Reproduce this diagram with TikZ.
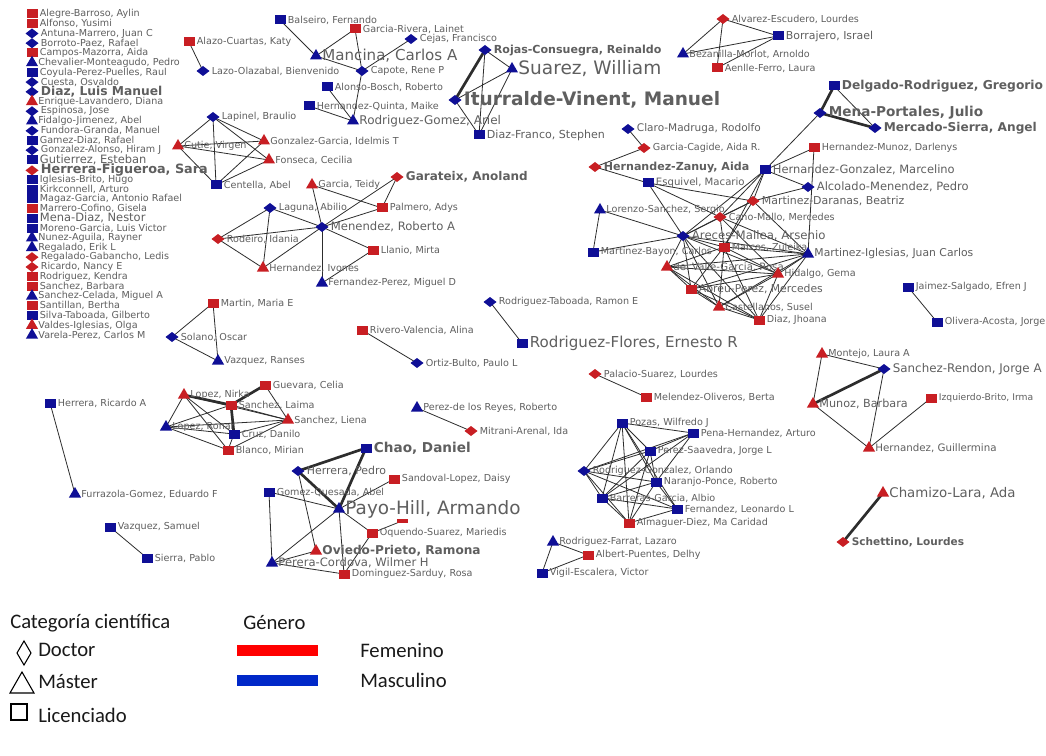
\documentclass[tikz,border=0pt]{standalone}
\usepackage{fontspec}
\newfontfamily\dvs{DejaVu Sans}
\newfontfamily\legfont{Carlito}
\usetikzlibrary{shapes.geometric}
\pgfdeclarelayer{bgl}\pgfdeclarelayer{edl}\pgfsetlayers{bgl,edl,main}
\definecolor{fR}{RGB}{200,30,35}
\definecolor{fB}{RGB}{15,15,150}
\definecolor{lblc}{RGB}{95,95,95}
\definecolor{edc}{RGB}{45,45,45}
\definecolor{legR}{RGB}{255,0,0}
\definecolor{legB}{RGB}{0,40,200}
\begin{document}
\begin{tikzpicture}[x=0.75pt,y=-0.75pt,label distance=1.6pt,
 mk/.style={inner sep=0pt,outer sep=0pt,draw=none},
 sq/.style={mk,rectangle,minimum width=8.25pt,minimum height=6.75pt},
 dm/.style={mk,diamond,minimum width=9.75pt,minimum height=7.5pt},
 tr/.style={mk,regular polygon,regular polygon sides=3,minimum size=10.5pt},
 sqR/.style={sq,fill=fR},sqB/.style={sq,fill=fB},
 dmR/.style={dm,fill=fR},dmB/.style={dm,fill=fB},
 trR/.style={tr,fill=fR},trB/.style={tr,fill=fB},
 lb/.style={inner sep=0pt,text=lblc},
 ls/.style={lb,font=\dvs\fontsize{7.2}{8}\selectfont},
 lz/.style={lb,font=\dvs\fontsize{#1}{#1}\selectfont},
 lzb/.style={lb,font=\dvs\bfseries\fontsize{#1}{#1}\selectfont},
 ed/.style={draw=edc,line width=0.6pt},
 edk/.style={draw=edc,line width=2pt},
 legt/.style={inner sep=0pt,anchor=west,text=black!90,font=\legfont\fontsize{15.5}{16}\selectfont},
 legs/.style={draw=black,line width=0.8pt}]
\begin{pgfonlayer}{bgl}
\fill[white] (0,0) rectangle (1046,756);
\end{pgfonlayer}
\useasboundingbox (0,0) rectangle (1046,756);
% ---------- left list ----------
\node[sqR,label={[ls]right:Alegre-Barroso, Aylin}] (l01) at (32,14) {};
\node[sqR,label={[ls]right:Alfonso, Yusimi}] (l02) at (32,23.7) {};
\node[dmB,label={[ls]right:Antuna-Marrero, Juan C}] (l03) at (32,33.5) {};
\node[dmB,label={[ls]right:Borroto-Paez, Rafael}] (l04) at (32,43.2) {};
\node[sqR,label={[ls]right:Campos-Mazorra, Aida}] (l05) at (32,52.9) {};
\node[trB,label={[ls]right:Chevalier-Monteagudo, Pedro}] (l06) at (32,62.7) {};
\node[sqB,label={[ls]right:Coyula-Perez-Puelles, Raul}] (l07) at (32,72.4) {};
\node[dmB,label={[ls]right:Cuesta, Osvaldo}] (l08) at (32,82.1) {};
\node[dmB,label={[lzb=9.2]right:Diaz, Luis Manuel}] (l09) at (32,91.8) {};
\node[trR,label={[ls]right:Enrique-Lavandero, Diana}] (l10) at (32,101.6) {};
\node[dmB,label={[ls]right:Espinosa, Jose}] (l11) at (32,111.3) {};
\node[trB,label={[ls]right:Fidalgo-Jimenez, Abel}] (l12) at (32,121.0) {};
\node[dmB,label={[ls]right:Fundora-Granda, Manuel}] (l13) at (32,130.8) {};
\node[sqB,label={[ls]right:Gamez-Diaz, Rafael}] (l14) at (32,140.5) {};
\node[dmB,label={[ls]right:Gonzalez-Alonso, Hiram J}] (l15) at (32,150.2) {};
\node[sqB,label={[lz=8.6]right:Gutierrez, Esteban}] (l16) at (32,159.6) {};
\node[dmR,label={[lzb=9.6]right:Herrera-Figueroa, Sara}] (l17) at (32,170.4) {};
\node[sqB,label={[ls]right:Iglesias-Brito, Hugo}] (l18) at (32,179.6) {};
\node[sqB,label={[ls]right:Kirkconnell, Arturo}] (l19) at (32,189.1) {};
\node[sqB,label={[ls]right:Magaz-Garcia, Antonio Rafael}] (l20) at (32,198.9) {};
\node[sqR,label={[ls]right:Marrero-Cofino, Gisela}] (l21) at (32,208.6) {};
\node[sqB,label={[lz=8.6]right:Mena-Diaz, Nestor}] (l22) at (32,218.3) {};
\node[sqB,label={[ls]right:Moreno-Garcia, Luis Victor}] (l23) at (32,228.1) {};
\node[trB,label={[ls]right:Nunez-Aguila, Rayner}] (l24) at (32,237.8) {};
\node[trB,label={[ls]right:Regalado, Erik L}] (l25) at (32,247.5) {};
\node[dmR,label={[ls]right:Regalado-Gabancho, Ledis}] (l26) at (32,257.2) {};
\node[dmR,label={[ls]right:Ricardo, Nancy E}] (l27) at (32,267.0) {};
\node[sqR,label={[ls]right:Rodriguez, Kendra}] (l28) at (32,276.7) {};
\node[sqR,label={[ls]right:Sanchez, Barbara}] (l29) at (32,286.4) {};
\node[trB,label={[ls]right:Sanchez-Celada, Miguel A}] (l30) at (32,296.2) {};
\node[sqR,label={[ls]right:Santillan, Bertha}] (l31) at (32,305.9) {};
\node[sqB,label={[ls]right:Silva-Taboada, Gilberto}] (l32) at (32,315.6) {};
\node[trR,label={[ls]right:Valdes-Iglesias, Olga}] (l33) at (32,325.4) {};
\node[trB,label={[ls]right:Varela-Perez, Carlos M}] (l34) at (32,335.1) {};
% ---------- network ----------
\node[sqB,label={[ls]right:Balseiro, Fernando}] (balseiro) at (280,20) {};
\node[sqR,label={[ls]right:Garcia-Rivera, Lainet}] (garciarivera) at (355,29) {};
\node[dmB,label={[ls]right:Cejas, Francisco}] (cejas) at (411,39) {};
\node[sqR,label={[ls]right:Alazo-Cuartas, Katy}] (alazo) at (189,42) {};
\node[trB,label={[lz=11.3]right:Mancina, Carlos A}] (mancina) at (316,56) {};
\node[dmB,label={[ls]right:Lazo-Olazabal, Bienvenido}] (lazo) at (203,71) {};
\node[dmB,label={[ls]right:Capote, Rene P}] (capote) at (362,71) {};
\node[sqB,label={[ls]right:Alonso-Bosch, Roberto}] (alonso) at (327,87) {};
\node[sqB,label={[ls]right:Hernandez-Quinta, Maike}] (hquinta) at (309,106) {};
\node[trB,label={[lz=9]right:Rodriguez-Gomez, Ariel}] (rgomez) at (353,121) {};
\node[dmB,label={[ls]right:Lapinel, Braulio}] (lapinel) at (213,117) {};
\node[trR,label={[ls]right:Gonzalez-Garcia, Idelmis T}] (ggarcia) at (264,141) {};
\node[trR,label={[ls]right:Cutie, Virgen}] (cutie) at (178,146) {};
\node[trR,label={[ls]right:Fonseca, Cecilia}] (fonseca) at (269,160) {};
\node[sqB,label={[ls]right:Centella, Abel}] (centella) at (216,185) {};
\node[trR,label={[ls]right:Garcia, Teidy}] (teidy) at (312,185) {};
\node[dmR,label={[lzb=9]right:Garateix, Anoland}] (garateix) at (397,177) {};
\node[dmB,label={[lzb=8.3]right:Rojas-Consuegra, Reinaldo}] (rojas) at (485,50) {};
\node[trB,label={[lz=13.9]right:Suarez, William}] (suarez) at (512,69) {};
\node[dmB,label={[lzb=13.9]right:Iturralde-Vinent, Manuel}] (iturralde) at (455,100) {};
\node[sqB,label={[lz=8.3]right:Diaz-Franco, Stephen}] (diazfranco) at (479,135) {};
\node[trB,label={[ls]right:Bezanilla-Morlot, Arnoldo}] (bezanilla) at (683,54) {};
\node[dmR,label={[ls]right:Alvarez-Escudero, Lourdes}] (alvarez) at (723,19) {};
\node[sqR,label={[ls]right:Aenlle-Ferro, Laura}] (aenlle) at (717,68) {};
\node[sqB,label={[lz=8.2]right:Borrajero, Israel}] (borrajero) at (778,36) {};
\node[dmB,label={[lz=7.9]right:Claro-Madruga, Rodolfo}] (claro) at (628,129) {};
\node[dmR,label={[ls]right:Garcia-Cagide, Aida R.}] (gcagide) at (644,148) {};
\node[dmR,label={[lzb=8.3]right:Hernandez-Zanuy, Aida}] (hzanuy) at (595,167) {};
\node[sqB,label={[lz=7.6]right:Esquivel, Macario}] (esquivel) at (648,183) {};
\node[sqB,label={[lzb=9.2]right:Delgado-Rodriguez, Gregorio}] (delgado) at (834,86) {};
\node[dmB,label={[lzb=10.2]right:Mena-Portales, Julio}] (menaportales) at (820,113) {};
\node[dmB,label={[lzb=9.1]right:Mercado-Sierra, Angel}] (mercado) at (875,128) {};
\node[sqR,label={[ls]right:Hernandez-Munoz, Darlenys}] (hmunoz) at (814,148) {};
\node[sqB,label={[lz=8.6]right:Hernandez-Gonzalez, Marcelino}] (hgonzalez) at (765,170) {};
\node[dmB,label={[lz=8.6]right:Alcolado-Menendez, Pedro}] (alcolado) at (808,187) {};
\node[trB,label={[ls]right:Lorenzo-Sanchez, Sergio}] (lorenzo) at (600,210) {};
\node[sqB,label={[ls]right:Martinez-Bayon, Carlos}] (mbayon) at (593,252) {};
\node[dmB,label={[lz=8.8]right:Areces-Mallea, Arsenio}] (areces) at (683,236) {};
\node[dmR,label={[ls]right:Cano-Mallo, Mercedes}] (canomallo) at (720,217) {};
\node[dmR,label={[lz=8.2]right:Martinez-Daranas, Beatriz}] (mdaranas) at (753,201) {};
\node[sqR,label={[ls]right:Marcos, Zuleika}] (marcos) at (724,247) {};
\node[trR,label={[lz=7.6]right:del Valle-Garcia, Rosa}] (delvalle) at (667,267) {};
\node[trR,label={[ls]right:Hidalgo, Gema}] (hidalgo) at (778,274) {};
\node[sqR,label={[lz=8.1]right:Abreu-Perez, Mercedes}] (abreu) at (691,289) {};
\node[trR,label={[ls]right:Castellanos, Susel}] (castellanos) at (719,307) {};
\node[sqR,label={[ls]right:Diaz, Jhoana}] (diazj) at (759,320) {};
\node[dmB,label={[ls]right:Rodriguez-Taboada, Ramon E}] (rtaboada) at (490,302) {};
\node[sqB,label={[lz=11.3]right:Rodriguez-Flores, Ernesto R}] (rflores) at (522,343) {};
\node[trB,label={[lz=8.1]right:Martinez-Iglesias, Juan Carlos}] (miglesias) at (808,254) {};
\node[sqB,label={[ls]right:Jaimez-Salgado, Efren J}] (jaimez) at (908,287) {};
\node[sqB,label={[ls]right:Olivera-Acosta, Jorge}] (olivera) at (937,322) {};
\node[trR,label={[ls]right:Montejo, Laura A}] (montejo) at (822,354) {};
\node[dmB,label={[lz=8.9]right:Sanchez-Rendon, Jorge A}] (srendon) at (884,369) {};
\node[trR,label={[lz=8.4]right:Munoz, Barbara}] (munoz) at (813,404) {};
\node[sqR,label={[lz=6.9]right:Izquierdo-Brito, Irma}] (izquierdo) at (931,398) {};
\node[trR,label={[lz=7.7]right:Hernandez, Guillermina}] (hguillermina) at (869,448) {};
\node[trR,label={[lz=10]right:Chamizo-Lara, Ada}] (chamizo) at (883,493) {};
\node[dmR,label={[lzb=7.9]right:Schettino, Lourdes}] (schettino) at (843,542) {};
\node[dmB,label={[ls]right:Laguna, Abilio}] (laguna) at (270,208) {};
\node[dmB,label={[lz=8.7]right:Menendez, Roberto A}] (menendez) at (322,227) {};
\node[sqR,label={[ls]right:Palmero, Adys}] (palmero) at (382,208) {};
\node[dmR,label={[ls]right:Rodeiro, Idania}] (rodeiro) at (218,239) {};
\node[trR,label={[ls]right:Hernandez, Ivones}] (hivones) at (263,268) {};
\node[sqR,label={[ls]right:Llanio, Mirta}] (llanio) at (373,250) {};
\node[trB,label={[ls]right:Fernandez-Perez, Miguel D}] (fperez) at (322,283) {};
\node[sqR,label={[ls]right:Martin, Maria E}] (martin) at (213,303) {};
\node[dmB,label={[ls]right:Solano, Oscar}] (solano) at (172,337) {};
\node[trB,label={[ls]right:Vazquez, Ranses}] (vranses) at (218,361) {};
\node[sqR,label={[ls]right:Rivero-Valencia, Alina}] (rivero) at (362,330) {};
\node[dmB,label={[ls]right:Ortiz-Bulto, Paulo L}] (ortiz) at (417,363) {};
\node[sqB,label={[ls]right:Herrera, Ricardo A}] (hricardo) at (50,403) {};
\node[trB,label={[ls]right:Furrazola-Gomez, Eduardo F}] (furrazola) at (75,494) {};
\node[sqB,label={[ls]right:Vazquez, Samuel}] (vsamuel) at (110,527) {};
\node[sqB,label={[ls]right:Sierra, Pablo}] (sierra) at (147,558) {};
\node[trR,label={[ls]right:Lopez, Nirka}] (lnirka) at (184,395) {};
\node[trB,label={[ls]right:Lopez, Ronar}] (lronar) at (166,427) {};
\node[sqR,label={[ls]right:Sanchez, Laima}] (slaima) at (231,405) {};
\node[sqB,label={[ls]right:Cruz, Danilo}] (cruz) at (234,434) {};
\node[sqR,label={[ls]right:Blanco, Mirian}] (blanco) at (228,450) {};
\node[sqR,label={[ls]right:Guevara, Celia}] (guevara) at (265,385) {};
\node[trR,label={[ls]right:Sanchez, Liena}] (sliena) at (288,420) {};
\node[sqB,label={[lzb=10.2]right:Chao, Daniel}] (chao) at (366,448) {};
\node[dmB,label={[lz=8.2]right:Herrera, Pedro}] (hpedro) at (298,471) {};
\node[sqR,label={[ls]right:Sandoval-Lopez, Daisy}] (sandoval) at (394,479) {};
\node[sqB,label={[ls]right:Gomez-Quesada, Abel}] (gquesada) at (269,492) {};
\node[mk,rectangle,fill=fR,minimum width=8.25pt,minimum height=3pt] (xsq) at (402,521) {};
\node[trB,label={[lz=13.8]right:Payo-Hill, Armando}] (payo) at (339,509) {};
\node[sqR,label={[ls]right:Oquendo-Suarez, Mariedis}] (oquendo) at (372,533) {};
\node[trR,label={[lzb=9.1]right:Oviedo-Prieto, Ramona}] (oviedo) at (316,551) {};
\node[trB,label={[lz=8.7]right:Perera-Cordova, Wilmer H}] (perera) at (272,563) {};
\node[sqR,label={[ls]right:Dominguez-Sarduy, Rosa}] (dominguez) at (344,574) {};
\node[trB,label={[ls]right:Perez-de los Reyes, Roberto}] (pdlreyes) at (417,408) {};
\node[dmR,label={[ls]right:Mitrani-Arenal, Ida}] (mitrani) at (471,431) {};
\node[dmR,label={[ls]right:Palacio-Suarez, Lourdes}] (palacio) at (595,374) {};
\node[sqR,label={[ls]right:Melendez-Oliveros, Berta}] (melendez) at (646,397) {};
\node[sqB,label={[ls]right:Pozas, Wilfredo J}] (pozas) at (622,423) {};
\node[sqB,label={[ls]right:Pena-Hernandez, Arturo}] (pena) at (693,433) {};
\node[sqB,label={[ls]right:Perez-Saavedra, Jorge L}] (psaavedra) at (650,451) {};
\node[dmB,label={[ls]right:Rodriguez-Gonzalez, Orlando}] (rgonzalez) at (584,471) {};
\node[sqB,label={[ls]right:Naranjo-Ponce, Roberto}] (naranjo) at (656,482) {};
\node[sqB,label={[ls]right:Barreras-Garcia, Albio}] (barreras) at (602,498) {};
\node[sqB,label={[ls]right:Fernandez, Leonardo L}] (fleonardo) at (677,509) {};
\node[sqR,label={[ls]right:Almaguer-Diez, Ma Caridad}] (almaguer) at (629,523) {};
\node[trB,label={[ls]right:Rodriguez-Farrat, Lazaro}] (rfarrat) at (553,542) {};
\node[sqR,label={[ls]right:Albert-Puentes, Delhy}] (albert) at (588,555) {};
\node[sqB,label={[ls]right:Vigil-Escalera, Victor}] (vigil) at (542,573) {};
% ---------- edges ----------
\begin{pgfonlayer}{edl}
\foreach \a/\b in {balseiro/mancina,garciarivera/mancina,garciarivera/capote,cejas/capote,mancina/capote,capote/rgomez,alonso/rgomez,hquinta/rgomez,alazo/lazo,
 rojas/suarez,suarez/iturralde,rojas/diazfranco,suarez/diazfranco,iturralde/diazfranco,
 alvarez/bezanilla,alvarez/aenlle,alvarez/borrajero,bezanilla/borrajero,aenlle/borrajero,
 delgado/mercado,menaportales/hgonzalez,
 claro/gcagide,gcagide/hzanuy,hzanuy/esquivel,esquivel/mdaranas,esquivel/canomallo,esquivel/areces,
 hgonzalez/hmunoz,hgonzalez/alcolado,hgonzalez/mdaranas,hgonzalez/canomallo,hgonzalez/areces,hgonzalez/marcos,
 alcolado/mdaranas,hmunoz/miglesias,lorenzo/areces,lorenzo/mbayon,mbayon/areces,
 areces/canomallo,areces/marcos,areces/delvalle,areces/abreu,areces/castellanos,areces/diazj,areces/hidalgo,areces/miglesias,areces/mdaranas,
 canomallo/mdaranas,canomallo/marcos,canomallo/miglesias,canomallo/hidalgo,mdaranas/miglesias,mdaranas/marcos,
 marcos/delvalle,marcos/abreu,marcos/hidalgo,marcos/castellanos,marcos/diazj,marcos/miglesias,
 delvalle/abreu,delvalle/hidalgo,delvalle/castellanos,delvalle/diazj,delvalle/miglesias,
 abreu/castellanos,abreu/diazj,abreu/hidalgo,abreu/miglesias,
 castellanos/diazj,castellanos/hidalgo,castellanos/miglesias,hidalgo/diazj,hidalgo/miglesias,diazj/miglesias,
 teidy/menendez,teidy/palmero,garateix/menendez,garateix/palmero,palmero/menendez,laguna/menendez,laguna/rodeiro,laguna/hivones,
 rodeiro/hivones,rodeiro/menendez,hivones/menendez,menendez/llanio,menendez/fperez,llanio/fperez,
 lapinel/cutie,lapinel/ggarcia,lapinel/fonseca,lapinel/centella,cutie/ggarcia,cutie/fonseca,cutie/centella,ggarcia/centella,fonseca/centella,
 martin/solano,martin/vranses,solano/vranses,rivero/ortiz,rtaboada/rflores,jaimez/olivera,
 montejo/srendon,montejo/munoz,srendon/hguillermina,munoz/hguillermina,izquierdo/hguillermina,
 hricardo/furrazola,vsamuel/sierra,pdlreyes/mitrani,palacio/melendez,
 pozas/pena,pozas/psaavedra,pozas/rgonzalez,pozas/naranjo,pozas/barreras,pozas/almaguer,pozas/fleonardo,
 pena/psaavedra,pena/rgonzalez,pena/naranjo,pena/barreras,psaavedra/rgonzalez,psaavedra/naranjo,psaavedra/barreras,psaavedra/almaguer,
 rgonzalez/naranjo,rgonzalez/barreras,rgonzalez/almaguer,rgonzalez/fleonardo,naranjo/barreras,naranjo/fleonardo,naranjo/almaguer,
 barreras/fleonardo,barreras/almaguer,fleonardo/almaguer,
 rfarrat/albert,rfarrat/vigil,albert/vigil,
 lnirka/lronar,lnirka/cruz,lnirka/blanco,lnirka/sliena,lronar/slaima,lronar/cruz,lronar/blanco,lronar/sliena,
 slaima/sliena,cruz/sliena,blanco/sliena,guevara/sliena,cruz/blanco,
 hpedro/oviedo,gquesada/payo,gquesada/perera,payo/perera,payo/dominguez,payo/oquendo,payo/sandoval,oquendo/xsq,oquendo/dominguez,oviedo/perera,perera/dominguez}
 \draw[ed] (\a.center) -- (\b.center);
\foreach \a/\b in {rojas/iturralde,delgado/menaportales,menaportales/mercado,munoz/srendon,chamizo/schettino,
 lnirka/slaima,slaima/guevara,slaima/cruz,chao/hpedro,chao/payo,hpedro/payo}
 \draw[edk] (\a.center) -- (\b.center);
\end{pgfonlayer}
% ---------- legend ----------
\node[legt] (lgcat) at (10,623) {Categoría científica};
\node[legt] (lggen) at (243,623) {Género};
\draw[legs] (24,641) -- (31,653) -- (24,665) -- (17,653) -- cycle;
\node[legt] (lgdoc) at (38,650) {Doctor};
\draw[legs] (22,672) -- (34,693) -- (10,693) -- cycle;
\node[legt] (lgmas) at (38,682) {Máster};
\draw[legs] (11,704) rectangle (27,720);
\node[legt] (lglic) at (38,715) {Licenciado};
\fill[legR] (237,645) rectangle (318,656);
\node[legt] (lgfem) at (360,650) {Femenino};
\fill[legB] (237,675) rectangle (318,686);
\node[legt] (lgmasc) at (360,680) {Masculino};
\end{tikzpicture}
\end{document}
